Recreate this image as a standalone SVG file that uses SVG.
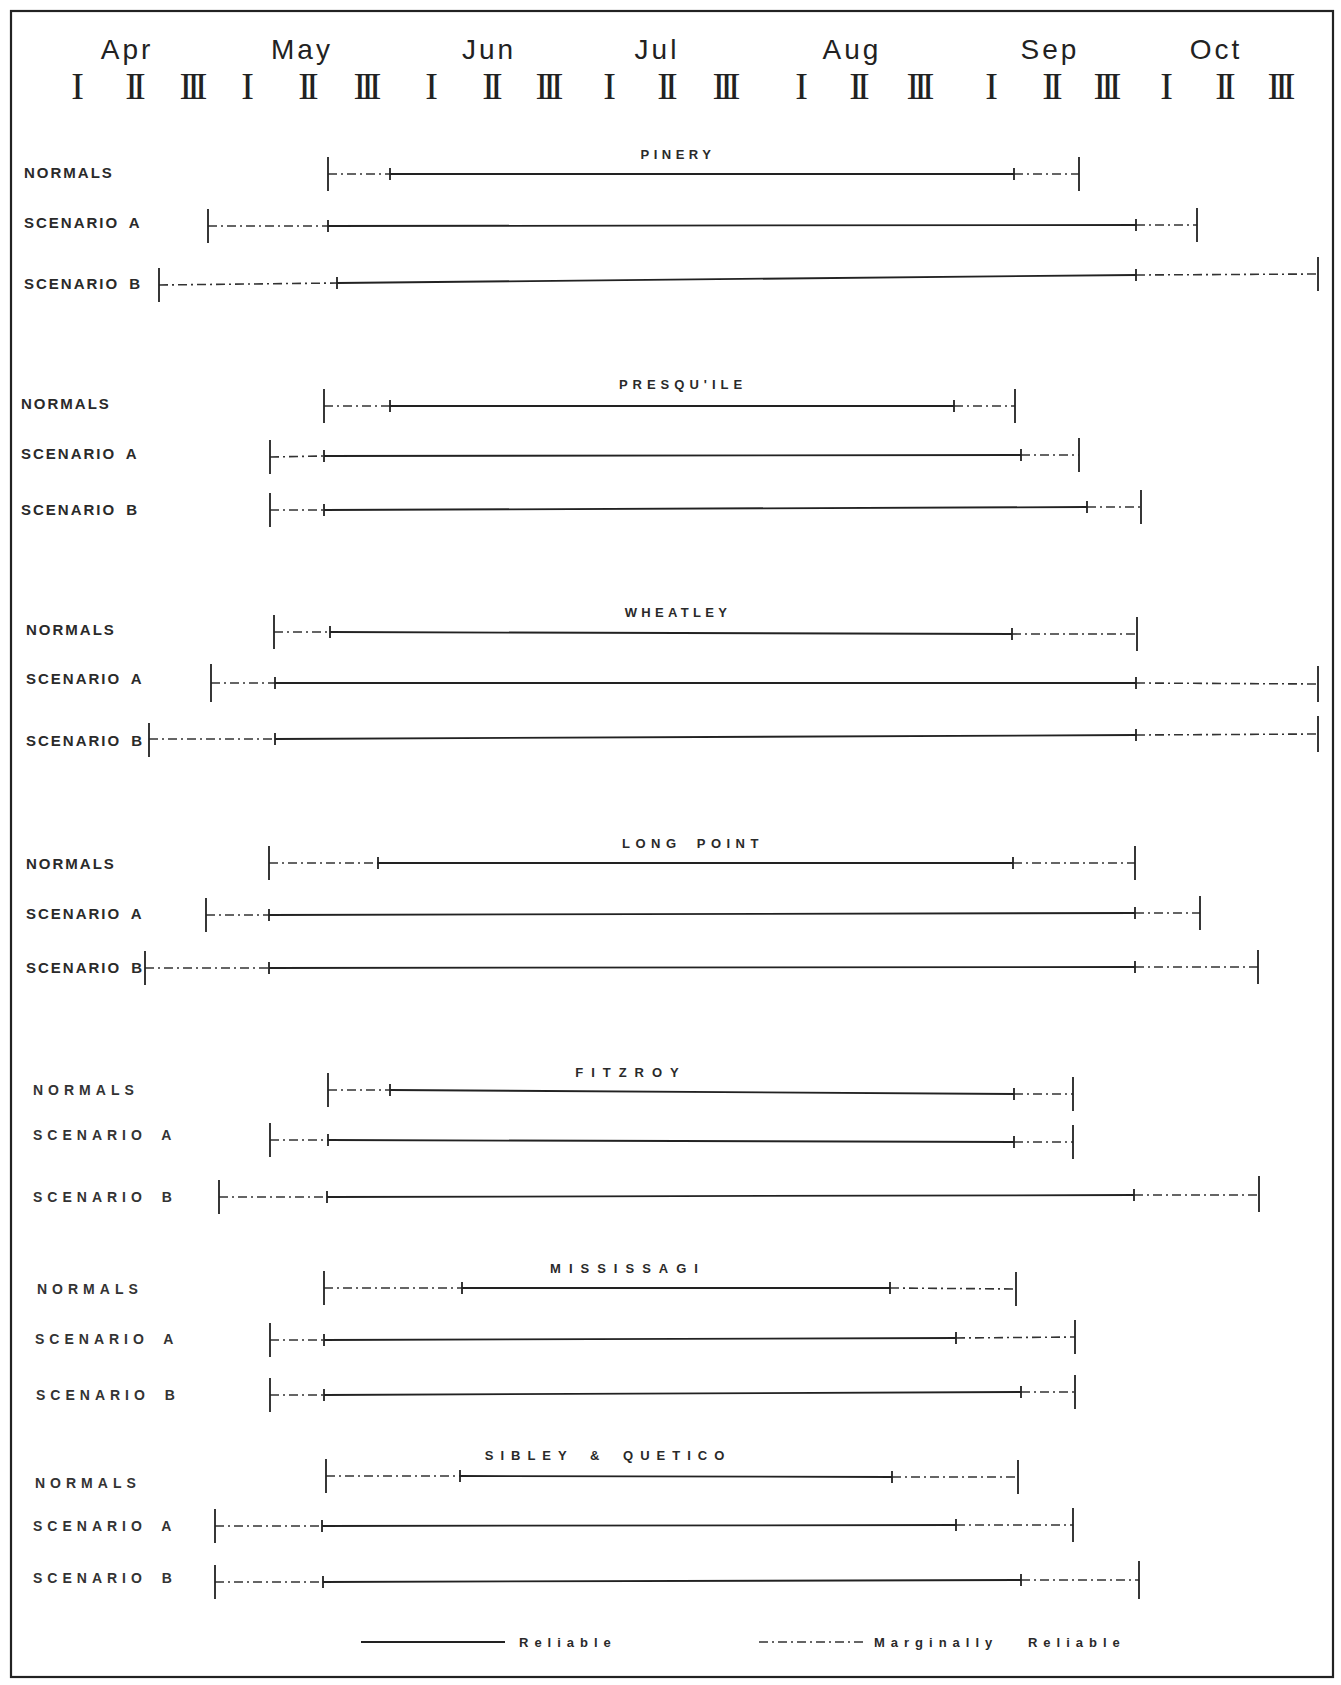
<svg xmlns="http://www.w3.org/2000/svg" width="1341" height="1685" viewBox="0 0 1341 1685">
<style>
.bg{fill:#fff}
.frame{fill:none;stroke:#222;stroke-width:2.2}
.mon{font-family:"Liberation Sans",Arial,sans-serif;font-size:28px;fill:#222;letter-spacing:3px;text-anchor:middle}
.dec{font-family:"Liberation Serif","Times New Roman",serif;font-size:38px;fill:#222;letter-spacing:-5px;text-anchor:middle}
.ttl{font-family:"Liberation Sans",Arial,sans-serif;font-size:13px;font-weight:bold;fill:#2a2a2a;text-anchor:middle}
.lab{font-family:"Liberation Sans",Arial,sans-serif;font-size:15px;font-weight:bold;fill:#2a2a2a;letter-spacing:2px;word-spacing:4px}
.lab2{font-family:"Liberation Sans",Arial,sans-serif;font-size:14px;font-weight:bold;fill:#333;letter-spacing:5px;word-spacing:6px}
.r{stroke:#222;stroke-width:1.8;fill:none}
.m{stroke:#333;stroke-width:1.6;fill:none;stroke-dasharray:9 4 2 4}
.t{stroke:#222;stroke-width:1.8;fill:none}
.leg{font-family:"Liberation Sans",Arial,sans-serif;font-size:13px;font-weight:bold;fill:#2a2a2a;letter-spacing:6px}
</style>
<rect class="bg" x="0" y="0" width="1341" height="1685"/>
<rect class="frame" x="11" y="11" width="1322" height="1666"/>

<g id="header">
<text class="mon" x="127" y="59">Apr</text>
<text class="mon" x="302" y="59">May</text>
<text class="mon" x="489" y="59">Jun</text>
<text class="mon" x="657" y="59">Jul</text>
<text class="mon" x="852" y="59">Aug</text>
<text class="mon" x="1050" y="59">Sep</text>
<text class="mon" x="1216" y="59">Oct</text>
<text class="dec" x="75" y="99">I</text>
<text class="dec" x="133" y="99">II</text>
<text class="dec" x="191" y="99">III</text>
<text class="dec" x="245" y="99">I</text>
<text class="dec" x="306" y="99">II</text>
<text class="dec" x="365" y="99">III</text>
<text class="dec" x="429" y="99">I</text>
<text class="dec" x="490" y="99">II</text>
<text class="dec" x="547" y="99">III</text>
<text class="dec" x="607" y="99">I</text>
<text class="dec" x="665" y="99">II</text>
<text class="dec" x="724" y="99">III</text>
<text class="dec" x="799" y="99">I</text>
<text class="dec" x="857" y="99">II</text>
<text class="dec" x="918" y="99">III</text>
<text class="dec" x="989" y="99">I</text>
<text class="dec" x="1050" y="99">II</text>
<text class="dec" x="1105" y="99">III</text>
<text class="dec" x="1164" y="99">I</text>
<text class="dec" x="1223" y="99">II</text>
<text class="dec" x="1279" y="99">III</text>
</g>

<g id="pinery">
<text class="ttl" x="678" y="159" style="letter-spacing:4.5px">PINERY</text>
<text class="lab" x="24" y="178">NORMALS</text>
<text class="lab" x="24" y="228">SCENARIO A</text>
<text class="lab" x="24" y="289">SCENARIO B</text>
</g>
<g id="presquile">
<text class="ttl" x="683" y="389" style="letter-spacing:5px">PRESQU'ILE</text>
<text class="lab" x="21" y="409">NORMALS</text>
<text class="lab" x="21" y="459">SCENARIO A</text>
<text class="lab" x="21" y="515">SCENARIO B</text>
</g>
<g id="wheatley">
<text class="ttl" x="678" y="617" style="letter-spacing:4.3px">WHEATLEY</text>
<text class="lab" x="26" y="635">NORMALS</text>
<text class="lab" x="26" y="684">SCENARIO A</text>
<text class="lab" x="26" y="746">SCENARIO B</text>
</g>
<g id="longpoint">
<text class="ttl" x="693" y="848" style="letter-spacing:5.5px;word-spacing:6px">LONG POINT</text>
<text class="lab" x="26" y="869">NORMALS</text>
<text class="lab" x="26" y="919">SCENARIO A</text>
<text class="lab" x="26" y="973">SCENARIO B</text>
</g>
<g id="fitzroy">
<text class="ttl" x="631" y="1077" style="letter-spacing:8px">FITZROY</text>
<text class="lab2" x="33" y="1095">NORMALS</text>
<text class="lab2" x="33" y="1140">SCENARIO A</text>
<text class="lab2" x="33" y="1202">SCENARIO B</text>
</g>
<g id="mississagi">
<text class="ttl" x="628" y="1273" style="letter-spacing:8px">MISSISSAGI</text>
<text class="lab2" x="37" y="1294">NORMALS</text>
<text class="lab2" x="35" y="1344">SCENARIO A</text>
<text class="lab2" x="36" y="1400">SCENARIO B</text>
</g>
<g id="sibley">
<text class="ttl" x="608" y="1460" style="letter-spacing:7px;word-spacing:6px">SIBLEY &amp; QUETICO</text>
<text class="lab2" x="35" y="1488">NORMALS</text>
<text class="lab2" x="33" y="1531">SCENARIO A</text>
<text class="lab2" x="33" y="1583">SCENARIO B</text>
</g>

<g id="bars">
<!-- Pinery -->
<line class="m" x1="328" y1="174" x2="390" y2="174"/><line class="r" x1="390" y1="174" x2="1014" y2="174"/><line class="m" x1="1014" y1="174" x2="1079" y2="174"/>
<path class="t" d="M328 157v34M390 168v12M1014 168v12M1079 157v34"/>
<line class="m" x1="208" y1="226" x2="328" y2="226"/><line class="r" x1="328" y1="226" x2="1136" y2="225"/><line class="m" x1="1136" y1="225" x2="1197" y2="225"/>
<path class="t" d="M208 209v34M328 220v12M1136 219v12M1197 208v34"/>
<line class="m" x1="159" y1="285" x2="337" y2="283"/><line class="r" x1="337" y1="283" x2="1136" y2="275"/><line class="m" x1="1136" y1="275" x2="1318" y2="274"/>
<path class="t" d="M159 268v34M337 277v12M1136 269v12M1318 257v34"/>
<!-- Presqu'ile -->
<line class="m" x1="324" y1="406" x2="390" y2="406"/><line class="r" x1="390" y1="406" x2="954" y2="406"/><line class="m" x1="954" y1="406" x2="1015" y2="406"/>
<path class="t" d="M324 389v34M390 400v12M954 400v12M1015 389v34"/>
<line class="m" x1="270" y1="457" x2="324" y2="456"/><line class="r" x1="324" y1="456" x2="1021" y2="455"/><line class="m" x1="1021" y1="455" x2="1079" y2="455"/>
<path class="t" d="M270 440v34M324 450v12M1021 449v12M1079 438v34"/>
<line class="m" x1="270" y1="510" x2="324" y2="510"/><line class="r" x1="324" y1="510" x2="1087" y2="507"/><line class="m" x1="1087" y1="507" x2="1141" y2="507"/>
<path class="t" d="M270 493v34M324 504v12M1087 501v12M1141 490v34"/>
<!-- Wheatley -->
<line class="m" x1="274" y1="632" x2="330" y2="632"/><line class="r" x1="330" y1="632" x2="1012" y2="634"/><line class="m" x1="1012" y1="634" x2="1137" y2="634"/>
<path class="t" d="M274 615v34M330 626v12M1012 628v12M1137 617v34"/>
<line class="m" x1="211" y1="683" x2="275" y2="683"/><line class="r" x1="275" y1="683" x2="1136" y2="683"/><line class="m" x1="1136" y1="683" x2="1318" y2="684"/>
<path class="t" d="M211 664v38M275 677v12M1136 677v12M1318 666v36"/>
<line class="m" x1="149" y1="739" x2="275" y2="739"/><line class="r" x1="275" y1="739" x2="1136" y2="735"/><line class="m" x1="1136" y1="735" x2="1318" y2="734"/>
<path class="t" d="M149 723v34M275 733v12M1136 729v12M1318 716v36"/>
<!-- Long Point -->
<line class="m" x1="269" y1="863" x2="378" y2="863"/><line class="r" x1="378" y1="863" x2="1013" y2="863"/><line class="m" x1="1013" y1="863" x2="1135" y2="863"/>
<path class="t" d="M269 846v34M378 857v12M1013 857v12M1135 846v34"/>
<line class="m" x1="206" y1="915" x2="269" y2="915"/><line class="r" x1="269" y1="915" x2="1135" y2="913"/><line class="m" x1="1135" y1="913" x2="1200" y2="913"/>
<path class="t" d="M206 898v34M269 909v12M1135 907v12M1200 896v34"/>
<line class="m" x1="145" y1="968" x2="269" y2="968"/><line class="r" x1="269" y1="968" x2="1135" y2="967"/><line class="m" x1="1135" y1="967" x2="1258" y2="967"/>
<path class="t" d="M145 951v34M269 962v12M1135 961v12M1258 950v34"/>
<!-- Fitzroy -->
<line class="m" x1="328" y1="1090" x2="390" y2="1090"/><line class="r" x1="390" y1="1090" x2="1014" y2="1094"/><line class="m" x1="1014" y1="1094" x2="1073" y2="1094"/>
<path class="t" d="M328 1073v34M390 1084v12M1014 1088v12M1073 1077v34"/>
<line class="m" x1="270" y1="1140" x2="328" y2="1140"/><line class="r" x1="328" y1="1140" x2="1014" y2="1142"/><line class="m" x1="1014" y1="1142" x2="1073" y2="1142"/>
<path class="t" d="M270 1123v34M328 1134v12M1014 1136v12M1073 1125v34"/>
<line class="m" x1="219" y1="1197" x2="327" y2="1197"/><line class="r" x1="327" y1="1197" x2="1134" y2="1195"/><line class="m" x1="1134" y1="1195" x2="1259" y2="1195"/>
<path class="t" d="M219 1180v34M327 1191v12M1134 1189v12M1259 1176v36"/>
<!-- Mississagi -->
<line class="m" x1="324" y1="1288" x2="462" y2="1288"/><line class="r" x1="462" y1="1288" x2="890" y2="1288"/><line class="m" x1="890" y1="1288" x2="1016" y2="1289"/>
<path class="t" d="M324 1271v34M462 1282v12M890 1282v12M1016 1272v34"/>
<line class="m" x1="270" y1="1340" x2="324" y2="1340"/><line class="r" x1="324" y1="1340" x2="956" y2="1338"/><line class="m" x1="956" y1="1338" x2="1075" y2="1337"/>
<path class="t" d="M270 1323v34M324 1334v12M956 1332v12M1075 1320v34"/>
<line class="m" x1="270" y1="1395" x2="324" y2="1395"/><line class="r" x1="324" y1="1395" x2="1021" y2="1392"/><line class="m" x1="1021" y1="1392" x2="1075" y2="1392"/>
<path class="t" d="M270 1378v34M324 1389v12M1021 1386v12M1075 1375v34"/>
<!-- Sibley & Quetico -->
<line class="m" x1="326" y1="1476" x2="460" y2="1476"/><line class="r" x1="460" y1="1476" x2="892" y2="1477"/><line class="m" x1="892" y1="1477" x2="1018" y2="1477"/>
<path class="t" d="M326 1459v34M460 1470v12M892 1471v12M1018 1460v34"/>
<line class="m" x1="215" y1="1526" x2="322" y2="1526"/><line class="r" x1="322" y1="1526" x2="956" y2="1525"/><line class="m" x1="956" y1="1525" x2="1073" y2="1525"/>
<path class="t" d="M215 1509v34M322 1520v12M956 1519v12M1073 1508v34"/>
<line class="m" x1="215" y1="1582" x2="323" y2="1582"/><line class="r" x1="323" y1="1582" x2="1021" y2="1580"/><line class="m" x1="1021" y1="1580" x2="1139" y2="1580"/>
<path class="t" d="M215 1565v34M323 1576v12M1021 1574v12M1139 1561v38"/>
</g>

<g id="legend">
<line class="r" x1="361" y1="1642" x2="505" y2="1642"/>
<text class="leg" x="519" y="1647">Reliable</text>
<line class="m" x1="759" y1="1642" x2="863" y2="1642"/>
<text class="leg" x="874" y="1647" style="word-spacing:20px">Marginally Reliable</text>
</g>
</svg>
